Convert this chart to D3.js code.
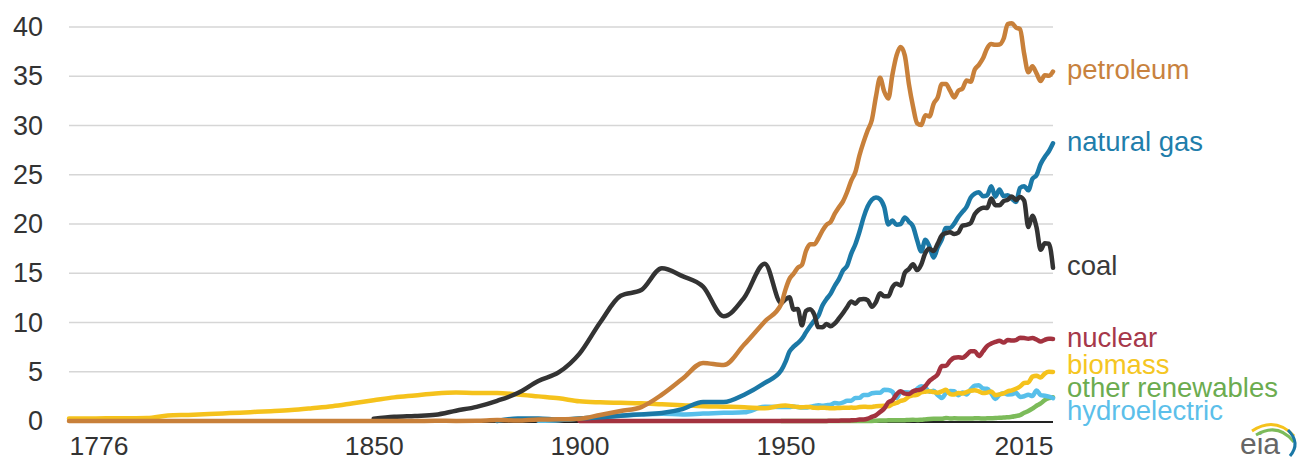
<!DOCTYPE html>
<html><head><meta charset="utf-8">
<script src="https://cdn.jsdelivr.net/npm/d3@7"></script>
<style>
body{margin:0;background:#fff}
svg{display:block}
text{font-family:"Liberation Sans",Arial,Helvetica,sans-serif}
</style>
</head><body>
<svg id="chart" width="1310" height="462"></svg>
<script>
// ---- tick labels ----
const yTickValues = [0, 5, 10, 15, 20, 25, 30, 35, 40];
const xTickYears = [1776, 1850, 1900, 1950, 2015];

// ---- series names (drawing order) ----
const seriesNames = ["other renewables", "hydroelectric", "biomass", "nuclear", "natural gas", "coal", "petroleum"];

// ---- annual years 1949-2015 ----
const annualYears = d3.range(1949, 2016);

// ---- early (pre-1949) data, quadrillion Btu ----
const petroleumEarlyYears = [1776, 1855, 1860, 1865, 1870, 1875, 1880, 1885, 1890, 1895, 1900, 1905, 1910, 1915, 1920, 1925, 1930, 1935, 1940, 1945];
const petroleumEarly = [0, 0, 0.003, 0.02, 0.011, 0.021, 0.096, 0.04, 0.156, 0.168, 0.229, 0.61, 1.007, 1.418, 2.676, 4.28, 5.897, 5.675, 7.76, 10.11];

const coalEarlyYears = [1850, 1855, 1860, 1865, 1870, 1875, 1880, 1885, 1890, 1895, 1900, 1905, 1910, 1915, 1920, 1925, 1930, 1935, 1940, 1945];
const coalEarly = [0.219, 0.421, 0.518, 0.632, 1.048, 1.44, 2.054, 2.84, 4.062, 4.95, 6.841, 10.001, 12.714, 13.294, 15.504, 14.706, 13.639, 10.634, 12.535, 15.972];

const gasEarlyYears = [1880, 1885, 1890, 1895, 1900, 1905, 1910, 1915, 1920, 1925, 1930, 1935, 1940, 1945];
const gasEarly = [0, 0.252, 0.257, 0.147, 0.252, 0.372, 0.54, 0.673, 0.813, 1.212, 1.932, 1.919, 2.665, 3.871];

const hydroEarlyYears = [1890, 1895, 1900, 1905, 1910, 1915, 1920, 1925, 1930, 1935, 1940, 1945];
const hydroEarly = [0.022, 0.085, 0.25, 0.386, 0.539, 0.659, 0.738, 0.668, 0.752, 0.831, 0.88, 1.442];

const biomassEarlyYears = [1776, 1780, 1785, 1790, 1795, 1800, 1805, 1810, 1815, 1820, 1825, 1830, 1835, 1840, 1845, 1850, 1855, 1860, 1865, 1870, 1875, 1880, 1885, 1890, 1895, 1900, 1905, 1910, 1915, 1920, 1925, 1930, 1935, 1940, 1945];
const biomassEarly = [0.25, 0.26, 0.27, 0.28, 0.3, 0.55, 0.62, 0.7, 0.8, 0.9, 1.0, 1.12, 1.3, 1.5, 1.8, 2.1, 2.4, 2.6, 2.8, 2.9, 2.85, 2.85, 2.7, 2.5, 2.3, 2.0, 1.9, 1.85, 1.8, 1.7, 1.6, 1.5, 1.45, 1.4, 1.3];

const nuclearEarlyYears = [1900, 1945];
const nuclearEarly = [0, 0];

const otherEarlyYears = [];
const otherEarly = [];

// ---- annual data 1949-2015 ----
const petroleumAnnual = [11.883, 13.315, 14.428, 14.956, 15.556, 15.839, 17.255, 17.937, 17.932, 18.527, 19.323, 19.919, 20.216, 21.049, 21.701, 22.301, 23.246, 24.401, 25.284, 26.979, 28.338, 29.521, 30.561, 32.947, 34.84, 33.455, 32.731, 35.175, 37.122, 37.965, 37.123, 34.202, 31.931, 30.232, 30.054, 31.051, 30.922, 32.196, 32.865, 34.222, 34.211, 33.553, 32.845, 33.527, 33.744, 34.561, 34.438, 35.675, 36.159, 36.816, 37.838, 38.262, 38.186, 38.224, 38.808, 40.292, 40.388, 39.955, 39.774, 37.28, 35.403, 36.01, 35.296, 34.516, 35.111, 35.045, 35.48];

const gasAnnual = [5.145, 5.968, 7.049, 7.55, 7.907, 8.33, 8.998, 9.614, 10.191, 10.663, 11.717, 12.385, 12.926, 13.731, 14.403, 15.288, 15.769, 16.995, 17.945, 19.21, 20.678, 21.795, 22.469, 22.698, 22.512, 21.732, 19.948, 20.345, 19.931, 20.0, 20.666, 20.235, 19.747, 18.356, 17.221, 18.394, 17.703, 16.591, 17.64, 18.448, 19.602, 19.603, 20.033, 20.714, 21.229, 21.728, 22.671, 23.085, 23.223, 22.83, 22.909, 23.824, 22.773, 23.51, 22.831, 22.923, 22.565, 22.239, 23.663, 23.843, 23.416, 24.575, 24.955, 26.089, 26.805, 27.383, 28.191];

const coalAnnual = [11.981, 12.347, 12.553, 11.306, 11.373, 9.715, 11.167, 11.35, 10.821, 9.533, 9.518, 9.838, 9.623, 9.906, 10.413, 10.964, 11.581, 12.143, 11.914, 12.331, 12.382, 12.265, 11.598, 12.077, 12.971, 12.663, 12.663, 13.584, 13.922, 13.766, 15.04, 15.423, 15.908, 15.322, 15.894, 17.071, 17.478, 17.26, 18.008, 18.846, 19.07, 19.173, 18.992, 19.122, 19.835, 19.909, 20.089, 21.002, 21.445, 21.656, 21.623, 22.58, 21.914, 21.904, 22.321, 22.466, 22.797, 22.447, 22.749, 22.385, 19.692, 20.834, 19.658, 17.378, 18.039, 17.998, 15.549];

const nuclearAnnual = [0, 0, 0, 0, 0, 0, 0, 0, 0.001, 0.002, 0.002, 0.006, 0.02, 0.026, 0.038, 0.04, 0.043, 0.064, 0.088, 0.142, 0.154, 0.239, 0.413, 0.584, 0.91, 1.272, 1.9, 2.111, 2.702, 3.024, 2.776, 2.739, 3.008, 3.131, 3.203, 3.553, 4.076, 4.38, 4.754, 5.587, 5.602, 6.104, 6.422, 6.479, 6.41, 6.694, 7.075, 7.087, 6.597, 7.068, 7.61, 7.862, 8.029, 8.145, 7.959, 8.222, 8.161, 8.215, 8.459, 8.426, 8.355, 8.434, 8.269, 8.062, 8.244, 8.338, 8.337];

const biomassAnnual = [1.549, 1.562, 1.535, 1.474, 1.419, 1.394, 1.424, 1.416, 1.334, 1.323, 1.353, 1.32, 1.295, 1.3, 1.323, 1.337, 1.335, 1.369, 1.34, 1.419, 1.44, 1.431, 1.432, 1.503, 1.529, 1.54, 1.499, 1.713, 1.838, 2.038, 2.152, 2.476, 2.596, 2.663, 2.904, 2.971, 3.016, 2.932, 2.875, 3.016, 3.16, 2.735, 2.682, 2.847, 2.803, 2.939, 3.068, 3.127, 3.008, 2.835, 2.885, 3.006, 2.624, 2.705, 2.805, 3.011, 3.114, 3.277, 3.503, 3.852, 3.899, 4.505, 4.604, 4.409, 4.811, 4.994, 4.983];

const hydroAnnual = [1.425, 1.415, 1.424, 1.466, 1.413, 1.36, 1.36, 1.435, 1.516, 1.592, 1.548, 1.608, 1.656, 1.816, 1.771, 1.886, 2.059, 2.062, 2.347, 2.349, 2.648, 2.634, 2.824, 2.864, 2.861, 3.177, 3.155, 2.976, 2.333, 2.937, 2.931, 2.9, 2.758, 3.266, 3.527, 3.386, 2.97, 3.071, 2.635, 2.334, 2.837, 3.046, 3.016, 2.617, 2.892, 2.683, 3.205, 3.59, 3.64, 3.297, 3.268, 2.811, 2.242, 2.689, 2.825, 2.69, 2.703, 2.869, 2.446, 2.511, 2.669, 2.539, 3.103, 2.629, 2.562, 2.467, 2.321];

const otherAnnual = [0, 0, 0, 0, 0, 0, 0, 0, 0, 0, 0, 0.001, 0.002, 0.002, 0.003, 0.003, 0.004, 0.004, 0.007, 0.009, 0.01, 0.011, 0.012, 0.031, 0.043, 0.053, 0.07, 0.078, 0.077, 0.064, 0.084, 0.11, 0.123, 0.105, 0.129, 0.165, 0.198, 0.219, 0.229, 0.217, 0.317, 0.26, 0.268, 0.266, 0.26, 0.252, 0.253, 0.27, 0.27, 0.255, 0.272, 0.284, 0.296, 0.336, 0.348, 0.382, 0.422, 0.513, 0.603, 0.827, 1.019, 1.257, 1.551, 1.779, 2.122, 2.311, 2.416];

const seriesColors = {
  "petroleum": "#c8803a",
  "natural gas": "#1b78a6",
  "coal": "#333333",
  "nuclear": "#a3323f",
  "biomass": "#f5c21c",
  "other renewables": "#7cbb5a",
  "hydroelectric": "#57bfea"
};
const labelColors = {
  "petroleum": "#c8823e",
  "natural gas": "#1f7eab",
  "coal": "#3a3a3a",
  "nuclear": "#a6384a",
  "biomass": "#f5c623",
  "other renewables": "#6cac50",
  "hydroelectric": "#5cbfea"
};

function build(ey, ev, av) {
  const pts = ey.map((yr, i) => ({year: yr, value: ev[i]}));
  annualYears.forEach((yr, i) => pts.push({year: yr, value: av[i]}));
  return pts;
}
const seriesData = {
  "petroleum": build(petroleumEarlyYears, petroleumEarly, petroleumAnnual),
  "natural gas": build(gasEarlyYears, gasEarly, gasAnnual),
  "coal": build(coalEarlyYears, coalEarly, coalAnnual),
  "nuclear": build(nuclearEarlyYears, nuclearEarly, nuclearAnnual),
  "biomass": build(biomassEarlyYears, biomassEarly, biomassAnnual),
  "other renewables": build(otherEarlyYears, otherEarly, otherAnnual),
  "hydroelectric": build(hydroEarlyYears, hydroEarly, hydroAnnual)
};

// ---- layout ----
const svg = d3.select("#chart");
const x = d3.scaleLinear().domain([1776, 2015]).range([69, 1053]);
const y = d3.scaleLinear().domain([0, 40]).range([421, 27]);

// gridlines
svg.append("g").selectAll("line").data(yTickValues.filter(d => d > 0)).join("line")
  .attr("x1", x(1776)).attr("x2", x(2015))
  .attr("y1", d => y(d)).attr("y2", d => y(d))
  .attr("stroke", "#d6d6d6").attr("stroke-width", 1.5);

// y axis labels
const yAxis = d3.axisLeft(y).tickValues(yTickValues).tickSize(0).tickPadding(26).tickFormat(d3.format("d"));
const gy = svg.append("g").attr("transform", `translate(${x(1776)},0)`).call(yAxis);
gy.select(".domain").remove();
gy.selectAll("text").attr("font-size", 27).attr("fill", "#333").attr("font-family", "Liberation Sans, Arial, sans-serif");

// x axis labels
const xAxis = d3.axisBottom(x).tickValues(xTickYears).tickSize(0).tickPadding(15).tickFormat(d3.format("d"));
const gx = svg.append("g").attr("transform", `translate(0,${y(0)})`).call(xAxis);
gx.select(".domain").remove();
gx.selectAll("text").attr("font-size", 26.5).attr("fill", "#333").attr("font-family", "Liberation Sans, Arial, sans-serif")
  .attr("text-anchor", (d, i) => i === 0 ? "start" : (i === xTickYears.length - 1 ? "end" : "middle"));

// baseline
svg.append("line").attr("x1", x(1776)).attr("x2", x(2015)).attr("y1", y(0) + 1).attr("y2", y(0) + 1)
  .attr("stroke", "#222").attr("stroke-width", 2);

// lines
const line = d3.line().x(d => x(d.year)).y(d => y(d.value)).curve(d3.curveMonotoneX);
svg.append("g").selectAll("path").data(seriesNames).join("path")
  .attr("d", n => line(seriesData[n]))
  .attr("fill", "none")
  .attr("stroke", n => seriesColors[n])
  .attr("stroke-width", 4.5)
  .attr("stroke-linejoin", "round")
  .attr("stroke-linecap", "round");

// end labels with simple collision avoidance
const labels = seriesNames.map(n => {
  const pts = seriesData[n];
  return {name: n, target: y(pts[pts.length - 1].value)};
}).sort((a, b) => a.target - b.target);
const gap = 23;
let clusters = labels.map(l => ({items: [l], mean: l.target}));
let merged = true;
while (merged) {
  merged = false;
  for (let i = 0; i < clusters.length - 1; i++) {
    const a = clusters[i], b = clusters[i + 1];
    const aBottom = a.mean + (a.items.length - 1) * gap / 2;
    const bTop = b.mean - (b.items.length - 1) * gap / 2;
    if (bTop - aBottom < gap) {
      const items = a.items.concat(b.items);
      const mean = d3.mean(items, d => d.target);
      clusters.splice(i, 2, {items, mean});
      merged = true;
      break;
    }
  }
}
clusters.forEach(c => c.items.forEach((it, k) => { it.pos = c.mean + (k - (c.items.length - 1) / 2) * gap - 2; }));

svg.append("g").selectAll("text").data(labels).join("text")
  .attr("x", x(2015) + 14)
  .attr("y", d => d.pos)
  .attr("dy", "0.35em")
  .attr("font-size", 27.5)
  .attr("fill", d => labelColors[d.name])
  .text(d => d.name);

// eia logo
const logo = svg.append("g");
logo.append("text").attr("x", 1240).attr("y", 454).attr("font-family", "Liberation Serif, Times New Roman, serif")
  .attr("font-size", 30).attr("fill", "#666").text("eia");
logo.append("path").attr("d", "M1252,431 Q1275,416 1294,436").attr("fill", "none").attr("stroke", "#f5c21c").attr("stroke-width", 3);
logo.append("path").attr("d", "M1256,435 Q1278,422 1294,442").attr("fill", "none").attr("stroke", "#7cbb5a").attr("stroke-width", 3);
logo.append("path").attr("d", "M1288,430 Q1301,443 1290,456").attr("fill", "none").attr("stroke", "#1b78a6").attr("stroke-width", 3);
</script>
</body></html>
